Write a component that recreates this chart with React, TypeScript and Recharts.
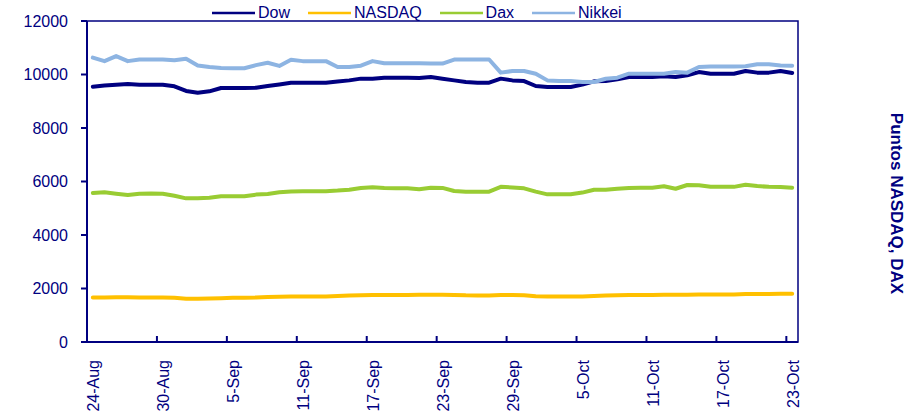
import React from 'react';
import { LineChart, Line, XAxis, YAxis, Legend, ReferenceArea } from 'recharts';

const NAVY = '#000080';
const FONT = '"Liberation Sans", Arial, sans-serif';

const dayTicks = [0, 6, 12, 18, 24, 30, 36, 42, 48, 54, 60];
const tickLabels = ['24-Aug', '30-Aug', '5-Sep', '11-Sep', '17-Sep', '23-Sep', '29-Sep', '5-Oct', '11-Oct', '17-Oct', '23-Oct'];
const yTicks = [0, 2000, 4000, 6000, 8000, 10000, 12000];

const dow = [
  9540, 9590, 9620, 9645, 9620, 9620, 9620, 9560, 9385, 9320,
  9370, 9495, 9495, 9495, 9505, 9570, 9630, 9695, 9695, 9695,
  9695, 9735, 9780, 9845, 9845, 9880, 9880, 9880, 9870, 9905,
  9845, 9780, 9720, 9695, 9695, 9845, 9780, 9755, 9570, 9530,
  9530, 9530, 9620, 9745, 9755, 9820, 9905, 9905, 9905, 9930,
  9905, 9970, 10090, 10030, 10030, 10030, 10130, 10070, 10070, 10130,
  10055,
];
const nasdaq = [
  1660, 1665, 1670, 1670, 1668, 1668, 1665, 1650, 1620, 1615,
  1625, 1640, 1650, 1655, 1660, 1680, 1690, 1700, 1705, 1705,
  1705, 1720, 1735, 1750, 1760, 1760, 1760, 1760, 1765, 1770,
  1770, 1760, 1745, 1740, 1740, 1760, 1755, 1750, 1710, 1700,
  1700, 1700, 1705, 1720, 1740, 1750, 1760, 1760, 1760, 1765,
  1765, 1770, 1775, 1775, 1775, 1775, 1790, 1795, 1795, 1800,
  1800,
];
const dax = [
  5570, 5595, 5545, 5495, 5545, 5550, 5545, 5470, 5370, 5370,
  5395, 5445, 5445, 5445, 5510, 5535, 5595, 5630, 5635, 5635,
  5635, 5660, 5695, 5755, 5785, 5755, 5745, 5745, 5710, 5765,
  5760, 5645, 5620, 5620, 5620, 5800, 5780, 5745, 5620, 5520,
  5520, 5520, 5585, 5690, 5690, 5730, 5760, 5770, 5770, 5820,
  5730, 5870, 5860, 5800, 5800, 5800, 5880, 5830, 5800, 5790,
  5770,
];
const nikkei = [
  10630, 10500, 10690, 10500, 10560, 10560, 10560, 10530, 10590, 10340,
  10280, 10240, 10235, 10235, 10350, 10440, 10320, 10550, 10500, 10500,
  10500, 10280, 10280, 10330, 10500, 10420, 10420, 10420, 10420, 10410,
  10410, 10560, 10560, 10560, 10560, 10070, 10130, 10130, 10030, 9780,
  9760, 9760, 9720, 9720, 9840, 9880, 10030, 10030, 10030, 10030,
  10090, 10070, 10280, 10300, 10300, 10300, 10310, 10380, 10380, 10340,
  10330,
];

const series = [
  { key: 'Dow', color: '#000080' },
  { key: 'NASDAQ', color: '#FFC000' },
  { key: 'Dax', color: '#99CC33' },
  { key: 'Nikkei', color: '#8DB4E2' },
];
const seriesOrder = series.map((s) => s.key);

const data = dow.map((v, i) => ({
  x: i + 0.5,
  Dow: v,
  NASDAQ: nasdaq[i],
  Dax: dax[i],
  Nikkei: nikkei[i],
}));

const XTick = (props: any) => {
  const { x, y, payload } = props;
  const idx = dayTicks.indexOf(payload.value);
  return (
    <g>
      <line x1={x} x2={x} y1={y - 6} y2={y} stroke={NAVY} strokeWidth={2} />
      <text
        x={0}
        y={0}
        transform={`translate(${x + 6.5},${y + 18}) rotate(-90)`}
        textAnchor="end"
        dy="0.36em"
        fill={NAVY}
        fontSize={16}
        fontFamily={FONT}
      >
        {tickLabels[idx]}
      </text>
    </g>
  );
};

const LegendContent = (props: any) => {
  const items = [...(props.payload || [])].sort(
    (a: any, b: any) => seriesOrder.indexOf(a.value) - seriesOrder.indexOf(b.value)
  );
  return (
    <div style={{ display: 'flex', alignItems: 'center', height: 20, fontFamily: FONT, fontSize: 16, color: NAVY, whiteSpace: 'nowrap' }}>
      {items.map((p: any) => (
        <div key={p.value} style={{ display: 'flex', alignItems: 'center', marginRight: 18 }}>
          <svg width={43} height={6} style={{ display: 'block' }}>
            <line x1={0} x2={43} y1={3} y2={3} stroke={p.color} strokeWidth={2.5} />
          </svg>
          <span style={{ marginLeft: 3, lineHeight: '20px' }}>{p.value}</span>
        </div>
      ))}
    </div>
  );
};

const RightLabel = (p: any) => {
  const vb = p.viewBox;
  return (
    <text
      x={0}
      y={0}
      transform={`translate(${vb.x + 99},${vb.y + vb.height / 2 + 22}) rotate(90)`}
      textAnchor="middle"
      dy="0.36em"
      fill={NAVY}
      fontSize={17}
      fontWeight="bold"
      fontFamily={FONT}
    >
      Puntos NASDAQ, DAX
    </text>
  );
};

export default function App() {
  return (
    <div style={{ position: 'absolute', left: 0, top: 0, width: 920, height: 418, background: '#fff' }}>
      <LineChart width={920} height={418} data={data} margin={{ top: 21, right: 0, bottom: 0, left: 27 }}>
        <XAxis
          dataKey="x"
          type="number"
          domain={[0, 61]}
          ticks={dayTicks}
          interval={0}
          height={76}
          tickSize={0}
          tickMargin={0}
          tickLine={false}
          axisLine={{ stroke: NAVY, strokeWidth: 2 }}
          tick={<XTick />}
          allowDataOverflow
        />
        <YAxis
          yAxisId="l"
          domain={[0, 12000]}
          ticks={yTicks}
          width={60}
          tickSize={6}
          tickMargin={13}
          interval={0}
          axisLine={{ stroke: NAVY, strokeWidth: 2 }}
          tickLine={{ stroke: NAVY, strokeWidth: 2 }}
          tick={{ fill: NAVY, fontSize: 16, fontFamily: FONT }}
        />
        <YAxis
          yAxisId="r"
          orientation="right"
          domain={[0, 12000]}
          width={122}
          tick={false}
          tickLine={false}
          axisLine={false}
          label={{ content: RightLabel }}
        />
        <ReferenceArea
          yAxisId="l"
          x1={0}
          x2={61}
          y1={0}
          y2={12000}
          fill="none"
          fillOpacity={0}
          stroke={NAVY}
          strokeWidth={1.5}
          ifOverflow="visible"
        />
        {series.map((s) => (
          <Line
            key={s.key}
            yAxisId="l"
            type="linear"
            dataKey={s.key}
            name={s.key}
            stroke={s.color}
            strokeWidth={4}
            dot={false}
            activeDot={false}
            strokeLinejoin="round"
            strokeLinecap="round"
            isAnimationActive={false}
          />
        ))}
        <Legend
          layout="horizontal"
          verticalAlign="middle"
          align="center"
          itemSorter={null as any}
          content={<LegendContent />}
          wrapperStyle={{ left: 212, top: 3, width: 460, height: 20 }}
        />
      </LineChart>
    </div>
  );
}
